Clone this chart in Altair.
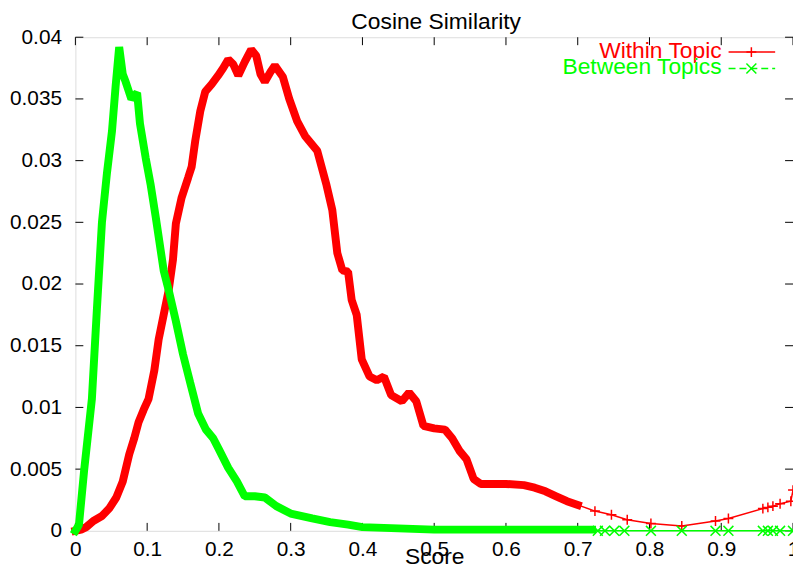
import altair as alt
import pandas as pd

# ---------------- data ----------------
within_x = [0.0, 0.008, 0.015, 0.025, 0.037, 0.047, 0.057, 0.066, 0.075, 0.082, 0.088,
            0.095, 0.102, 0.110, 0.116, 0.123, 0.130, 0.136, 0.140, 0.148, 0.157, 0.162,
            0.167, 0.174, 0.181, 0.190, 0.199, 0.206, 0.213, 0.220, 0.227, 0.236, 0.245,
            0.252, 0.258, 0.264, 0.272, 0.278, 0.289, 0.298, 0.309, 0.320, 0.337, 0.350,
            0.358, 0.365, 0.372, 0.380, 0.385, 0.392, 0.399, 0.410, 0.420, 0.430, 0.440,
            0.455, 0.465, 0.475, 0.485, 0.500, 0.515, 0.525, 0.535, 0.545, 0.555, 0.565,
            0.600, 0.625, 0.640, 0.655, 0.670, 0.685, 0.700, 0.724, 0.747, 0.769, 0.802,
            0.845, 0.892, 0.910, 0.958, 0.965, 0.972, 0.982, 0.997, 1.0]
within_y = [0.0, 0.0001, 0.0003, 0.0008, 0.0012, 0.0018, 0.0027, 0.0040, 0.0062, 0.0075, 0.0088,
            0.0098, 0.0107, 0.0130, 0.0155, 0.0175, 0.0195, 0.0220, 0.0249, 0.0270, 0.0286, 0.0295,
            0.0316, 0.0340, 0.0356, 0.0362, 0.0369, 0.0375, 0.0382, 0.0378, 0.0369, 0.0380, 0.0390,
            0.0385, 0.0370, 0.0364, 0.0372, 0.0377, 0.0368, 0.0350, 0.0332, 0.0320, 0.0308, 0.0280,
            0.0260, 0.0225, 0.0211, 0.0210, 0.0187, 0.0175, 0.0139, 0.0125, 0.0122, 0.0125, 0.0110,
            0.0105, 0.0112, 0.0105, 0.0085, 0.0083, 0.0082, 0.0075, 0.0065, 0.0058, 0.0042, 0.0038,
            0.0038, 0.0037, 0.0035, 0.0032, 0.0028, 0.0024, 0.0021, 0.0016, 0.0013, 0.0009, 0.0006,
            0.0004, 0.0008, 0.0010, 0.0018, 0.0019, 0.0020, 0.0022, 0.0024, 0.0033]

between_x = [0.0, 0.005, 0.012, 0.023, 0.030, 0.037, 0.044, 0.051, 0.056, 0.061, 0.066,
             0.070, 0.078, 0.086, 0.090, 0.098, 0.105, 0.112, 0.123, 0.130, 0.140, 0.150,
             0.160, 0.171, 0.182, 0.192, 0.200, 0.213, 0.225, 0.236, 0.250, 0.264, 0.280,
             0.300, 0.330, 0.355, 0.380, 0.400, 0.450, 0.500, 0.600, 0.720, 0.728, 0.738,
             0.751, 0.765, 0.802, 0.845, 0.892, 0.910, 0.958, 0.965, 0.972, 0.982, 1.0]
between_y = [0.0, 0.0005, 0.0048, 0.0107, 0.0180, 0.0250, 0.0290, 0.0324, 0.0360, 0.0392, 0.0370,
             0.0364, 0.0350, 0.0355, 0.0330, 0.0302, 0.0280, 0.0254, 0.0211, 0.0195, 0.0170, 0.0143,
             0.0120, 0.0095, 0.0082, 0.0075, 0.0066, 0.0051, 0.0040, 0.0028, 0.0028, 0.0027, 0.0020,
             0.0014, 0.0010, 0.0007, 0.0005, 0.0003, 0.0002, 0.0001, 0.0001, 0.0001, 0.0, 0.0,
             0.0, 0.0, 0.0, 0.0, 0.0, 0.0, 0.0, 0.0, 0.0, 0.0, 0.0]

x_ticks = [0.0, 0.1, 0.2, 0.3, 0.4, 0.5, 0.6, 0.7, 0.8, 0.9, 1.0]
y_ticks = [0.0, 0.005, 0.01, 0.015, 0.02, 0.025, 0.03, 0.035, 0.04]

series_names = ["Within Topic", "Between Topics"]
title_text = "Cosine Similarity"
x_title = "Score"

# ---------------- layout / styles ----------------
W, H = 724, 498
FONT = "Liberation Sans"
RED, GREEN = "#ff0000", "#00ff00"
PLUS = "M-1,0L1,0M0,-1L0,1"
CROSS = "M-1,-1L1,1M-1,1L1,-1"

within = pd.DataFrame({"x": within_x, "y": within_y})
between = pd.DataFrame({"x": between_x, "y": between_y})
xt = pd.DataFrame({"v": x_ticks})
yt = pd.DataFrame({"v": y_ticks})

xscale = alt.Scale(domain=[0, 1], nice=False)
yscale = alt.Scale(domain=[0, 0.04], nice=False)

xaxis = alt.Axis(values=x_ticks, format="~g", labelFont=FONT, labelFontSize=21,
                 labelColor="black", ticks=False, tickSize=0, domain=False, grid=False,
                 labelPadding=8, labelFlush=False, labelOverlap=False,
                 title=x_title, titleFont=FONT, titleFontSize=23, titleFontWeight="normal",
                 titleColor="black", titleY=33, titleBaseline="alphabetic")
yaxis = alt.Axis(values=y_ticks, format="~g", labelFont=FONT, labelFontSize=21,
                 labelColor="black", ticks=False, tickSize=0, domain=False, grid=False,
                 labelPadding=14, labelFlush=False, labelOverlap=False, title=None)

X = alt.X("x:Q", scale=xscale, axis=xaxis)
Y = alt.Y("y:Q", scale=yscale, axis=yaxis)


def dense_line(df, color, xmax):
    return alt.Chart(df).transform_filter(alt.datum.x <= xmax).mark_line(
        color=color, strokeWidth=8, strokeJoin="bevel", strokeCap="square"
    ).encode(x=X, y=Y)


def sparse_line(df, color, xmin):
    return alt.Chart(df).transform_filter(alt.datum.x >= xmin).mark_line(
        color=color, strokeWidth=1.5
    ).encode(x=X, y=Y)


def sparse_pts(df, color, xmin, shape):
    return alt.Chart(df).transform_filter(alt.datum.x >= xmin).mark_point(
        shape=shape, filled=False, color=color, strokeWidth=1.5, size=100, opacity=1
    ).encode(x=X, y=Y)


# inward ticks (gnuplot style) on all four sides
tick_len = 8
xt_bottom = alt.Chart(xt).mark_rule(color="black", strokeWidth=1).encode(
    x=alt.X("v:Q", scale=xscale, axis=xaxis), y=alt.value(H), y2=alt.value(H - tick_len))
xt_top = alt.Chart(xt).mark_rule(color="black", strokeWidth=1).encode(
    x=alt.X("v:Q", scale=xscale, axis=xaxis), y=alt.value(0), y2=alt.value(tick_len))
yt_left = alt.Chart(yt).mark_rule(color="black", strokeWidth=1).encode(
    y=alt.Y("v:Q", scale=yscale, axis=yaxis), x=alt.value(0), x2=alt.value(tick_len))
yt_right = alt.Chart(yt).mark_rule(color="black", strokeWidth=1).encode(
    y=alt.Y("v:Q", scale=yscale, axis=yaxis), x=alt.value(W), x2=alt.value(W - tick_len))

one = alt.Data(values=[{"k": 1}])

# title as a text mark above the plot frame
title = alt.Chart(one).mark_text(
    text=title_text, align="center", baseline="alphabetic", font=FONT, fontSize=23,
    color="black"
).encode(x=alt.value(W / 2 + 2), y=alt.value(-8))

# legend (gnuplot key, top right)
leg = []
for name, color, ty, ly, shape, dash in [
    (series_names[0], RED, 13.5, 15, PLUS, [1, 0]),
    (series_names[1], GREEN, 30.5, 31.5, CROSS, [7, 4]),
]:
    leg.append(alt.Chart(one).mark_text(
        text=name, align="right", baseline="middle", font=FONT, fontSize=23, color=color
    ).encode(x=alt.value(652), y=alt.value(ty)))
    leg.append(alt.Chart(one).mark_rule(color=color, strokeWidth=1.5, strokeDash=dash).encode(
        x=alt.value(659), x2=alt.value(706), y=alt.value(ly)))
    leg.append(alt.Chart(one).mark_point(
        shape=shape, filled=False, color=color, strokeWidth=1.5, size=100, opacity=1
    ).encode(x=alt.value(682), y=alt.value(ly)))

chart = alt.layer(
    xt_bottom, xt_top, yt_left, yt_right,
    dense_line(within, RED, 0.70),
    sparse_line(within, RED, 0.70),
    sparse_pts(within, RED, 0.72, PLUS),
    dense_line(between, GREEN, 0.72),
    sparse_line(between, GREEN, 0.72),
    sparse_pts(between, GREEN, 0.725, CROSS),
    title,
    *leg,
).properties(
    width=W, height=H,
    autosize=alt.AutoSizeParams(type="none"),
    padding={"left": 68, "top": 27, "right": 0, "bottom": 33},
).configure_view(stroke="black", strokeWidth=1).configure(background="white")

chart.save("out.html", embed_options={"renderer": "svg", "actions": False})
